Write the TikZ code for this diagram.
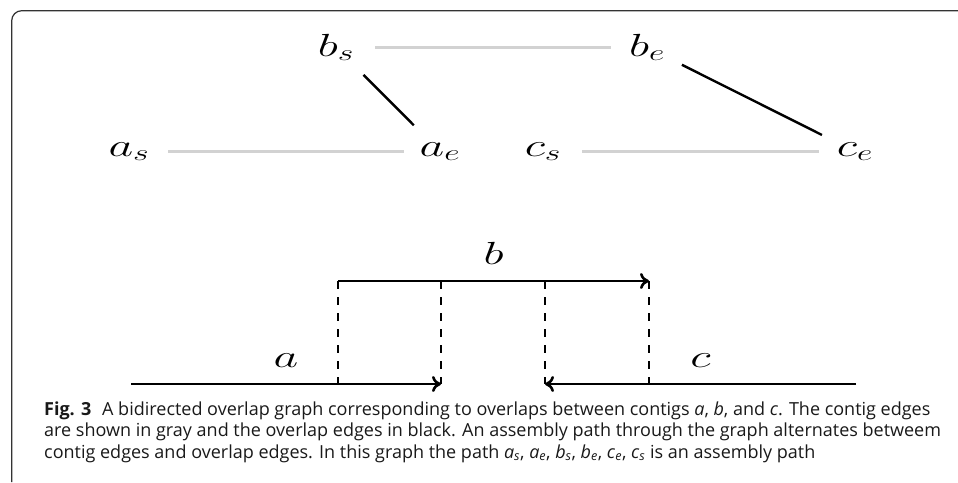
\RequirePackage{fix-cm}
\documentclass[tikz,border=0pt]{standalone}
\usepackage{fontspec}
\setsansfont{Open Sans}
\usepackage{graphicx}
\usetikzlibrary{arrows.meta}
\newcommand{\hsx}[1]{\scalebox{1.5}[1]{$#1$}}
\newcommand{\capv}[2]{\textit{#1}\textsubscript{\textit{#2}}}
\begin{document}
\begin{tikzpicture}[x=1pt,y=-1pt,
  vert/.style={inner sep=0pt, anchor=base, font=\fontsize{32}{38}\selectfont},
  contig/.style={draw=gray!35, line width=2.6pt, shorten <=39pt, shorten >=36pt},
  ovl/.style={draw=black, line width=2.4pt, shorten <=39pt, shorten >=37pt},
  seg/.style={line width=2.6pt, -{Computer Modern Rightarrow[length=9pt,width=16pt]}},
  guide/.style={line width=1.8pt, dash pattern=on 8pt off 8pt},
  lab/.style={inner sep=0pt, anchor=south, yshift=15pt, font=\fontsize{32}{38}\selectfont},
  captext/.style={anchor=base west, inner sep=0pt, font=\sffamily\fontsize{18}{21}\selectfont, text=black!90}
]
\useasboundingbox (0,0) rectangle (958,482);
\draw[line width=1.2pt, gray!40!black, rounded corners=10pt] (11.7,482) |- (958,10.7);

% vertices
\node[vert] (bs) at (336,56) {\hsx{b_s}};
\node[vert] (be) at (647,56) {\hsx{b_e}};
\node[vert] (as) at (129,156) {\hsx{a_s}};
\node[vert] (ae) at (440,156) {\hsx{a_e}};
\node[vert] (cs) at (543,156) {\hsx{c_s}};
\node[vert] (ce) at (855,156) {\hsx{c_e}};

% contig edges
\draw[contig] (bs.center) -- (be.center);
\draw[contig] (as.center) -- (ae.center);
\draw[contig] (cs.center) -- (ce.center);
% overlap edges
\draw[ovl] (bs.center) -- (ae.center);
\draw[ovl] (be.center) -- (ce.center);

% contigs
\coordinate (a1) at (131,384);
\coordinate (a2) at (441,384);
\coordinate (b1) at (338,281);
\coordinate (b2) at (649,281);
\coordinate (c1) at (856,384);
\coordinate (c2) at (545,384);
\draw[seg] (a1) -- node[lab] (la) {\hsx{a}} (a2);
\draw[seg] (b1) -- node[lab] (lb) {\hsx{b}} (b2);
\draw[seg] (c1) -- node[lab] (lc) {\hsx{c}} (c2);
\draw[guide] (b1) -- (b1 |- a1);
\draw[guide] (a2 |- b1) -- (a2);
\draw[guide] (c2 |- b1) -- (c2);
\draw[guide] (b2) -- (b2 |- c1);

% caption
\node[captext] (cap1) at (44,415) {\textbf{Fig. 3}\hspace{0.6em}A bidirected overlap graph corresponding to overlaps between contigs \textit{a}, \textit{b}, and \textit{c}. The contig edges};
\node[captext] (cap2) at (44,436.5) {are shown in gray and the overlap edges in black. An assembly path through the graph alternates betweem};
\node[captext] (cap3) at (44,458) {contig edges and overlap edges. In this graph the path \capv{a}{s}, \capv{a}{e}, \capv{b}{s}, \capv{b}{e}, \capv{c}{e}, \capv{c}{s} is an assembly path};
\end{tikzpicture}
\end{document}
